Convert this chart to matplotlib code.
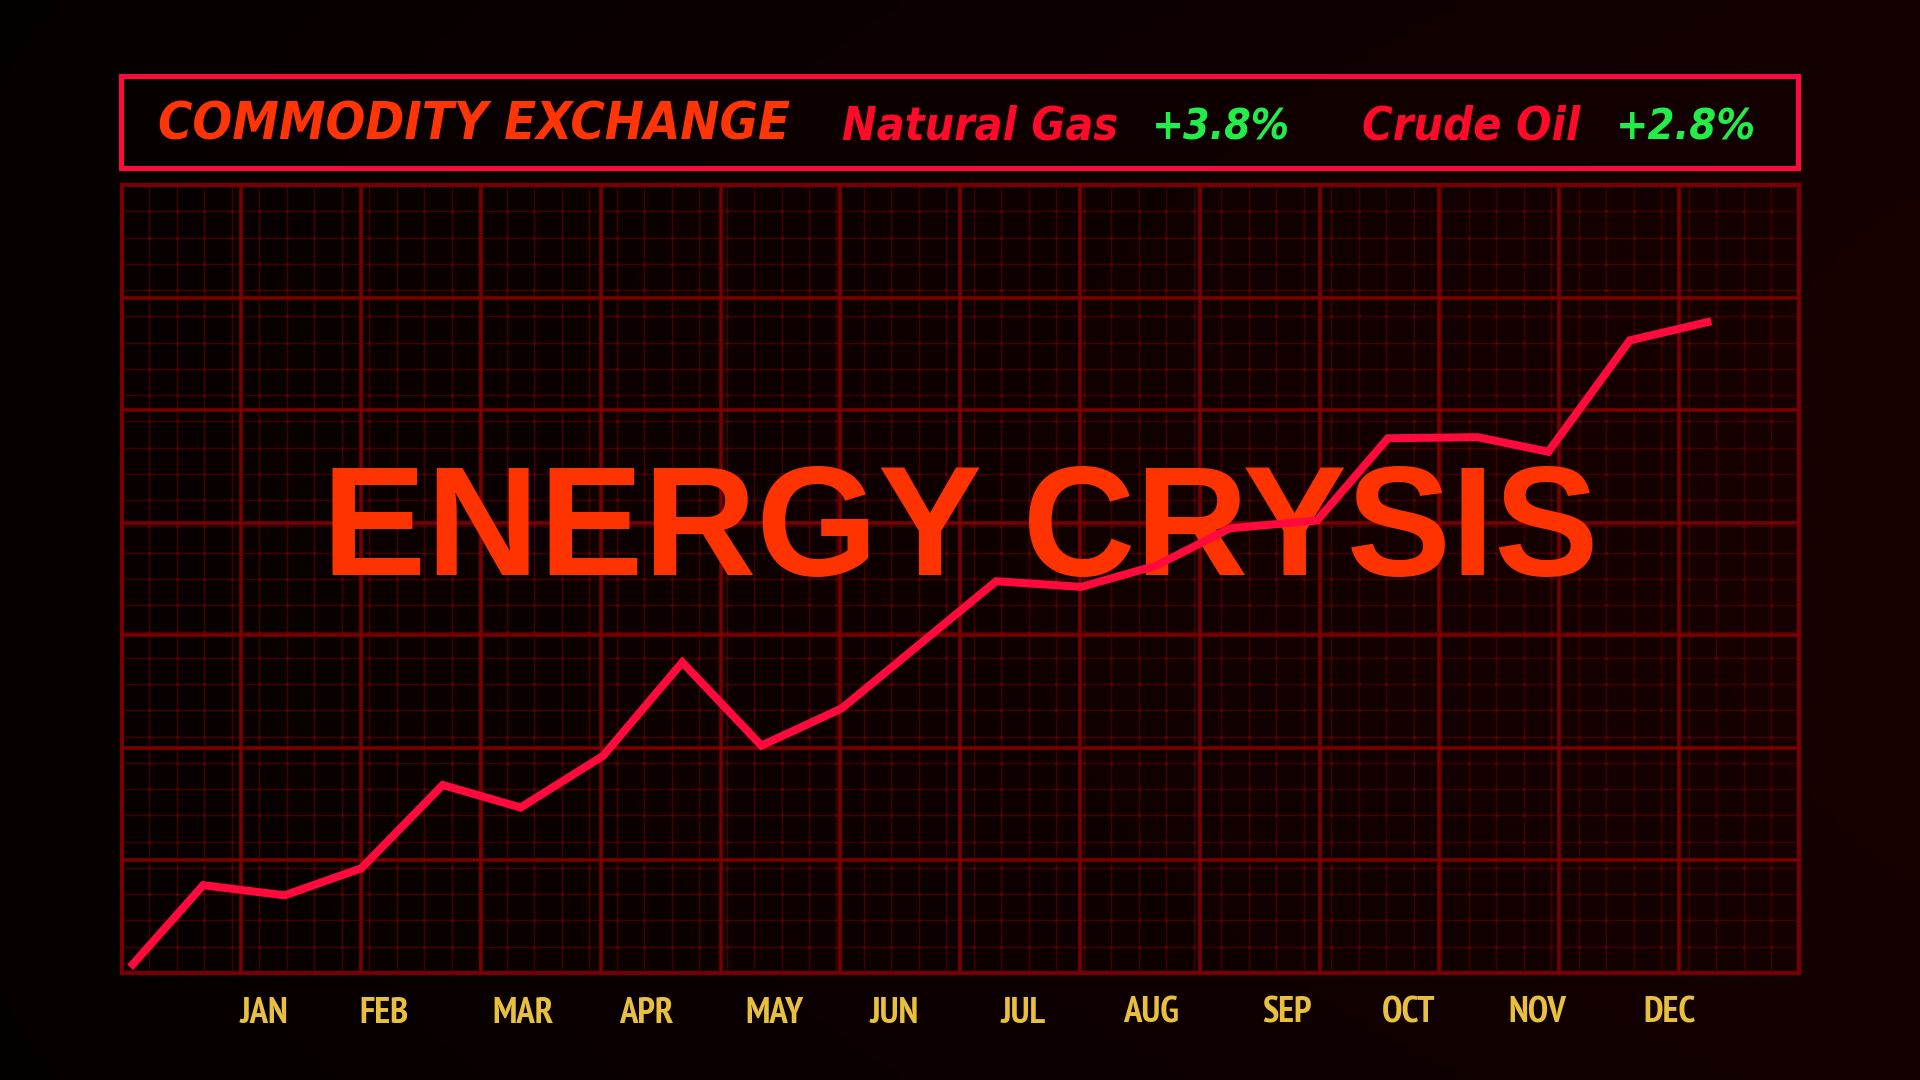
import os
import numpy as np
import matplotlib
matplotlib.use('Agg')
import matplotlib.pyplot as plt
import matplotlib.font_manager as fm
from matplotlib.patches import Rectangle

# data (x in grid cells, y in grid cells)
x_vals = [0.07, 0.68, 1.36, 2.00, 2.68, 3.33, 4.02, 4.68, 5.34, 6.01,
          7.30, 8.01, 8.64, 9.25, 9.98, 10.57, 11.32, 11.91, 12.59, 13.27]
y_vals = [0.05, 0.78, 0.69, 0.93, 1.67, 1.47, 1.93, 2.76, 2.02, 2.35,
          3.48, 3.43, 3.62, 3.95, 4.02, 4.75, 4.76, 4.63, 5.62, 5.79]
months = ['JAN', 'FEB', 'MAR', 'APR', 'MAY', 'JUN',
          'JUL', 'AUG', 'SEP', 'OCT', 'NOV', 'DEC']
month_pos = [1.19, 2.19, 3.35, 4.38, 5.45, 6.45,
             7.53, 8.59, 9.73, 10.74, 11.82, 12.92]
# text, colour, left x (px), right x (px)
header = [('COMMODITY EXCHANGE', '#ff3508', 158, 790),
          ('Natural Gas', '#ff0a28', 842, 1118),
          ('+3.8%', '#22ee48', 1152, 1290),
          ('Crude Oil', '#ff0a28', 1362, 1580),
          ('+2.8%', '#22ee48', 1616, 1756)]
title = 'ENERGY CRYSIS'

W, H = 1920, 1080
def fx(x):
    return x / W
def fy(y):
    return 1 - y / H


def weight_num(w):
    if isinstance(w, (int, float)):
        return w
    return fm.weight_dict.get(w, 400)


def narrow_font(italic):
    # look for an Arial-Narrow-like bold face, else plain Liberation Sans
    cands = []
    for f in fm.fontManager.ttflist:
        key = (f.name + ' ' + os.path.basename(f.fname)).lower()
        if 'narrow' in key:
            rank = 0 if 'liberation' in key else 1
        elif 'condensed' in key:
            if 'extra' in key or 'ultra' in key:
                rank = 4
            elif 'semi' in key:
                rank = 3
            else:
                rank = 2
        else:
            continue
        if abs(weight_num(f.weight) - 700) > 50:
            continue
        if (f.style != 'normal') != italic:
            continue
        cands.append((rank, f.fname))
    if cands:
        return fm.FontProperties(fname=sorted(cands)[0][1])
    return fm.FontProperties(family='Liberation Sans', weight='bold',
                             style='italic' if italic else 'normal')


fig = plt.figure(figsize=(19.2, 10.8), dpi=100)
renderer = fig.canvas.get_renderer()

# dark red background gradient
bg = fig.add_axes([0, 0, 1, 1], zorder=-10)
t = np.linspace(0, 1, 400)[None, :]
v = np.linspace(-1, 1, 225)[:, None]
img = np.zeros((225, 400, 3))
img[..., 0] = (7 + 17 * t) * (1 - 0.2 * v ** 2) / 255
bg.imshow(img, aspect='auto', extent=[0, 1, 0, 1])
bg.axis('off')

ax = fig.add_axes([fx(121.7), fy(973), 1677 / W, 788 / H])
ax.set_xlim(0, 14)
ax.set_ylim(0, 7)
ax.set_facecolor('none')

# fine grid + dots
mx = np.linspace(0, 14, 62)
my = np.linspace(0, 7, 31)
ax.vlines(mx, 0, 7, color='#440000', lw=1.0, zorder=1)
ax.hlines(my, 0, 14, color='#440000', lw=1.0, zorder=1)
gx, gy = np.meshgrid(mx, my)
ax.scatter(gx.ravel(), gy.ravel(), s=5, color='#600000', linewidths=0, zorder=1.5)
# major grid
ax.vlines(np.arange(15), 0, 7, color='#780000', lw=2.6, zorder=2)
ax.hlines(np.arange(8), 0, 14, color='#780000', lw=2.6, zorder=2)
for s in ax.spines.values():
    s.set_color('#780000')
    s.set_linewidth(3)
ax.set_xticks([])
ax.set_yticks([])

big = ax.text(fx(960), fy(575), title, transform=fig.transFigure, ha='center',
              va='baseline', fontsize=112, fontweight='bold',
              family=['Liberation Sans', 'DejaVu Sans'], color='#ff3300', zorder=4)
w = big.get_window_extent(renderer).width
big.set_fontsize(112 * 1276 / w)

ax.plot(x_vals, y_vals, color='#ff0a3c', lw=5.8, solid_joinstyle='miter',
        solid_capstyle='butt', zorder=5, clip_on=False)

# month labels
mfont = narrow_font(False)
mtexts = []
for m, p in zip(months, month_pos):
    mtexts.append(ax.text(p, -0.063, m, transform=ax.get_xaxis_transform(),
                          ha='center', va='baseline', fontproperties=mfont,
                          fontsize=23, color='#e8c040'))
mw = sum(tt.get_window_extent(renderer).width for tt in mtexts[:6])
msize = min(23 * 410 / mw, 26.5)
for tt in mtexts:
    tt.set_fontsize(msize)

# header box
box = Rectangle((fx(121), fy(167.5)), (1798 - 121) / W, (167.5 - 75.5) / H,
                transform=fig.transFigure, fill=False, ec='#ff0a3c', lw=3.6)
fig.add_artist(box)
hfont = narrow_font(True)
for txt, col, x0, x1 in header:
    ht = fig.text(fx(x0), fy(140), txt, ha='left', va='baseline',
                  fontproperties=hfont, fontsize=38, color=col)
    hw = ht.get_window_extent(renderer).width
    ht.set_fontsize(min(38 * (x1 - x0) / hw, 40))

fig.savefig('out.png', dpi=100)
